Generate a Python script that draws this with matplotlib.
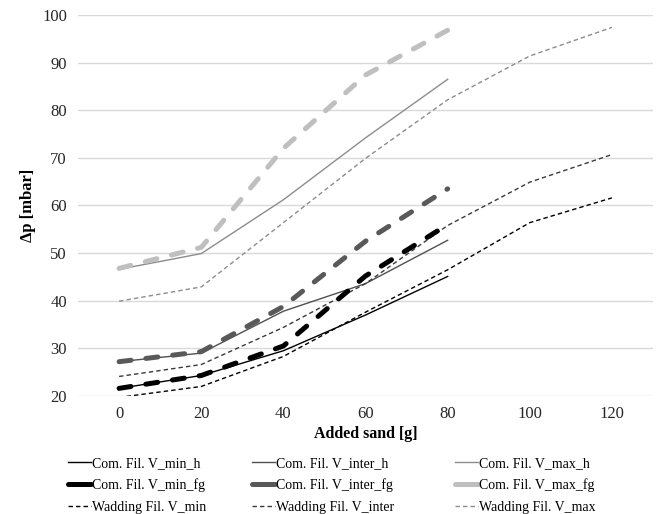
import matplotlib
matplotlib.use("Agg")
import matplotlib.pyplot as plt

plt.rcParams['font.family'] = ['Liberation Serif', 'DejaVu Serif']

# x categories (added sand in g)
sand = ["0", "20", "40", "60", "80", "100", "120"]

# commercial filter, homogeneous
com_min_h = [21.6, 24.3, 29.5, 37.0, 45.1]
com_inter_h = [27.2, 29.0, 37.8, 43.6, 52.7]
com_max_h = [46.6, 49.9, 61.2, 74.2, 86.5]

# commercial filter, fine grain
com_min_fg = [21.6, 24.3, 30.5, 45.2, 56.0]
com_inter_fg = [27.2, 29.3, 38.8, 52.5, 63.5]
com_max_fg = [46.8, 51.2, 72.0, 87.4, 96.8]

# wadding filter
wad_min = [19.7, 22.0, 28.3, 37.6, 46.5, 56.4, 61.6]
wad_inter = [24.1, 26.6, 34.4, 43.6, 55.8, 64.9, 70.7]
wad_max = [39.9, 42.9, 56.4, 69.9, 82.2, 91.4, 97.4]

fig = plt.figure(figsize=(6.59, 5.14), dpi=100)
ax = fig.add_axes([0.1184, 0.2296, 0.8725, 0.7412])

x = list(range(len(sand)))

thin = 1.0
thick = 3.6
fg_dash = (2.4, 3.0)
wad_dash = (3.2, 2.2)

h1, = ax.plot(x[:5], com_min_h, color='#000000', lw=thin)
h2, = ax.plot(x[:5], com_inter_h, color='#505050', lw=thin)
h3, = ax.plot(x[:5], com_max_h, color='#8c8c8c', lw=thin)

h7, = ax.plot(x, wad_min, color='#000000', lw=thin, dashes=wad_dash)
h8, = ax.plot(x, wad_inter, color='#3a3a3a', lw=thin, dashes=wad_dash)
h9, = ax.plot(x, wad_max, color='#8c8c8c', lw=thin, dashes=wad_dash)

h4, = ax.plot(x[:5], com_min_fg, color='#000000', lw=thick, dashes=fg_dash,
              dash_capstyle='round', solid_capstyle='round')
h5, = ax.plot(x[:5], com_inter_fg, color='#595959', lw=thick, dashes=fg_dash,
              dash_capstyle='round', solid_capstyle='round')
h6, = ax.plot(x[:5], com_max_fg, color='#bfbfbf', lw=thick, dashes=fg_dash,
              dash_capstyle='round', solid_capstyle='round')

ax.set_xlim(-0.5, len(sand) - 0.5)
ax.set_ylim(20, 100)
ax.set_yticks(range(20, 101, 10))
ax.set_xticks(x)
ax.set_xticklabels(sand)
ax.tick_params(length=0, labelsize=12, colors='#262626')
ax.tick_params(axis='x', pad=7)
ax.tick_params(axis='y', pad=8)
ax.grid(axis='y', color='#d9d9d9', lw=1.0)
ax.set_axisbelow(True)
for s in ax.spines.values():
    s.set_visible(False)

ax.set_xlabel("Added sand [g]", fontsize=11.5, fontweight='bold', labelpad=3)
ax.set_ylabel("Δp [mbar]", fontsize=12, fontweight='bold', labelpad=4)

# legend: one column per group (min / inter / max), rows h / fg / wadding
columns = [
    ([h1, h4, h7], ["Com. Fil. V_min_h", "Com. Fil. V_min_fg", "Wadding Fil. V_min"], 0.103),
    ([h2, h5, h8], ["Com. Fil. V_inter_h", "Com. Fil. V_inter_fg", "Wadding Fil. V_inter"], 0.382),
    ([h3, h6, h9], ["Com. Fil. V_max_h", "Com. Fil. V_max_fg", "Wadding Fil. V_max"], 0.690),
]
for hs, labs, xpos in columns:
    leg = fig.legend(hs, labs, loc='upper left', bbox_to_anchor=(xpos, 0.111),
                     frameon=False, fontsize=10, handlelength=1.65,
                     handletextpad=0.12, labelspacing=0.62, borderpad=0,
                     borderaxespad=0)
    for lh in leg.get_lines():
        if lh.get_linewidth() > 2:
            lh.set_dashes((None, None))
            lh.set_linestyle('-')
            lh.set_solid_capstyle('round')

fig.savefig("out.png", dpi=100)
